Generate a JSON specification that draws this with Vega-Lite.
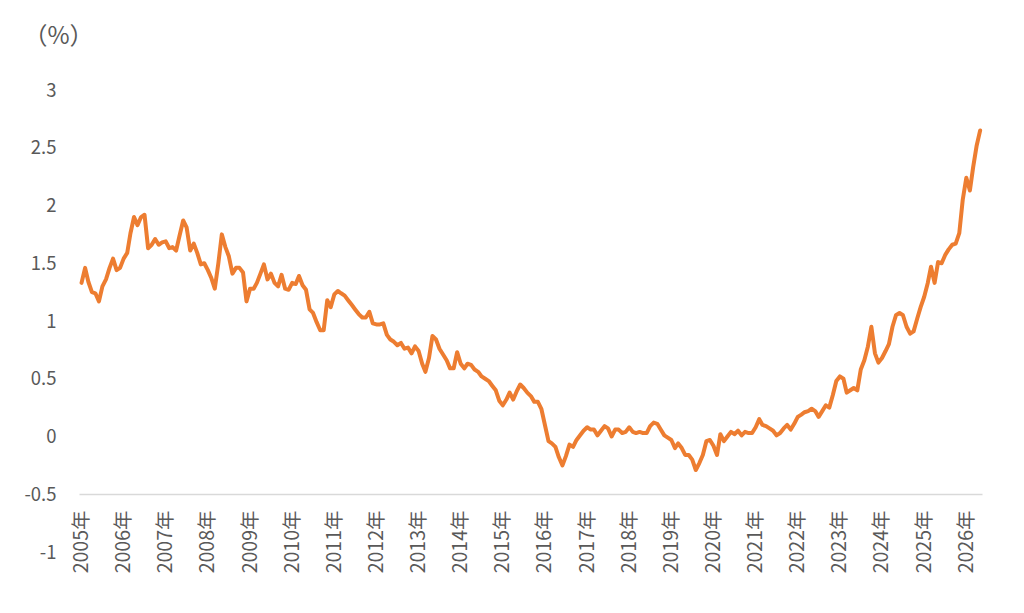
{
  "$schema": "https://vega.github.io/schema/vega-lite/v6.json",
  "width": 903,
  "height": 462,
  "autosize": "none",
  "padding": {"left": 79, "top": 90, "right": 42, "bottom": 61},
  "background": "white",
  "config": {"view": {"stroke": null}, "font": "Noto Sans CJK JP"},
  "data": {
    "values": [
      {"d": "2005-01", "v": 1.33}, {"d": "2005-02", "v": 1.46}, {"d": "2005-03", "v": 1.34}, {"d": "2005-04", "v": 1.25},
      {"d": "2005-05", "v": 1.24}, {"d": "2005-06", "v": 1.17}, {"d": "2005-07", "v": 1.30}, {"d": "2005-08", "v": 1.36},
      {"d": "2005-09", "v": 1.46}, {"d": "2005-10", "v": 1.54}, {"d": "2005-11", "v": 1.44}, {"d": "2005-12", "v": 1.46},
      {"d": "2006-01", "v": 1.54}, {"d": "2006-02", "v": 1.59}, {"d": "2006-03", "v": 1.76}, {"d": "2006-04", "v": 1.90},
      {"d": "2006-05", "v": 1.83}, {"d": "2006-06", "v": 1.90}, {"d": "2006-07", "v": 1.92}, {"d": "2006-08", "v": 1.63},
      {"d": "2006-09", "v": 1.66}, {"d": "2006-10", "v": 1.71}, {"d": "2006-11", "v": 1.66}, {"d": "2006-12", "v": 1.68},
      {"d": "2007-01", "v": 1.69}, {"d": "2007-02", "v": 1.63}, {"d": "2007-03", "v": 1.64}, {"d": "2007-04", "v": 1.61},
      {"d": "2007-05", "v": 1.74}, {"d": "2007-06", "v": 1.87}, {"d": "2007-07", "v": 1.81}, {"d": "2007-08", "v": 1.61},
      {"d": "2007-09", "v": 1.67}, {"d": "2007-10", "v": 1.59}, {"d": "2007-11", "v": 1.49}, {"d": "2007-12", "v": 1.50},
      {"d": "2008-01", "v": 1.44}, {"d": "2008-02", "v": 1.37}, {"d": "2008-03", "v": 1.28}, {"d": "2008-04", "v": 1.50},
      {"d": "2008-05", "v": 1.75}, {"d": "2008-06", "v": 1.64}, {"d": "2008-07", "v": 1.56}, {"d": "2008-08", "v": 1.41},
      {"d": "2008-09", "v": 1.46}, {"d": "2008-10", "v": 1.46}, {"d": "2008-11", "v": 1.42}, {"d": "2008-12", "v": 1.17},
      {"d": "2009-01", "v": 1.28}, {"d": "2009-02", "v": 1.28}, {"d": "2009-03", "v": 1.33}, {"d": "2009-04", "v": 1.41},
      {"d": "2009-05", "v": 1.49}, {"d": "2009-06", "v": 1.36}, {"d": "2009-07", "v": 1.41}, {"d": "2009-08", "v": 1.33},
      {"d": "2009-09", "v": 1.30}, {"d": "2009-10", "v": 1.40}, {"d": "2009-11", "v": 1.28}, {"d": "2009-12", "v": 1.27},
      {"d": "2010-01", "v": 1.33}, {"d": "2010-02", "v": 1.32}, {"d": "2010-03", "v": 1.39}, {"d": "2010-04", "v": 1.31},
      {"d": "2010-05", "v": 1.27}, {"d": "2010-06", "v": 1.10}, {"d": "2010-07", "v": 1.07}, {"d": "2010-08", "v": 0.99},
      {"d": "2010-09", "v": 0.92}, {"d": "2010-10", "v": 0.92}, {"d": "2010-11", "v": 1.18}, {"d": "2010-12", "v": 1.12},
      {"d": "2011-01", "v": 1.23}, {"d": "2011-02", "v": 1.26}, {"d": "2011-03", "v": 1.24}, {"d": "2011-04", "v": 1.22},
      {"d": "2011-05", "v": 1.18}, {"d": "2011-06", "v": 1.14}, {"d": "2011-07", "v": 1.10}, {"d": "2011-08", "v": 1.06},
      {"d": "2011-09", "v": 1.03}, {"d": "2011-10", "v": 1.03}, {"d": "2011-11", "v": 1.08}, {"d": "2011-12", "v": 0.98},
      {"d": "2012-01", "v": 0.97}, {"d": "2012-02", "v": 0.97}, {"d": "2012-03", "v": 0.98}, {"d": "2012-04", "v": 0.88},
      {"d": "2012-05", "v": 0.84}, {"d": "2012-06", "v": 0.82}, {"d": "2012-07", "v": 0.79}, {"d": "2012-08", "v": 0.81},
      {"d": "2012-09", "v": 0.76}, {"d": "2012-10", "v": 0.77}, {"d": "2012-11", "v": 0.72}, {"d": "2012-12", "v": 0.78},
      {"d": "2013-01", "v": 0.74}, {"d": "2013-02", "v": 0.63}, {"d": "2013-03", "v": 0.56}, {"d": "2013-04", "v": 0.68},
      {"d": "2013-05", "v": 0.87}, {"d": "2013-06", "v": 0.84}, {"d": "2013-07", "v": 0.76}, {"d": "2013-08", "v": 0.71},
      {"d": "2013-09", "v": 0.66}, {"d": "2013-10", "v": 0.59}, {"d": "2013-11", "v": 0.59}, {"d": "2013-12", "v": 0.73},
      {"d": "2014-01", "v": 0.63}, {"d": "2014-02", "v": 0.59}, {"d": "2014-03", "v": 0.63}, {"d": "2014-04", "v": 0.62},
      {"d": "2014-05", "v": 0.58}, {"d": "2014-06", "v": 0.56}, {"d": "2014-07", "v": 0.52}, {"d": "2014-08", "v": 0.50},
      {"d": "2014-09", "v": 0.48}, {"d": "2014-10", "v": 0.44}, {"d": "2014-11", "v": 0.40}, {"d": "2014-12", "v": 0.31},
      {"d": "2015-01", "v": 0.27}, {"d": "2015-02", "v": 0.32}, {"d": "2015-03", "v": 0.38}, {"d": "2015-04", "v": 0.32},
      {"d": "2015-05", "v": 0.39}, {"d": "2015-06", "v": 0.45}, {"d": "2015-07", "v": 0.42}, {"d": "2015-08", "v": 0.38},
      {"d": "2015-09", "v": 0.35}, {"d": "2015-10", "v": 0.30}, {"d": "2015-11", "v": 0.30}, {"d": "2015-12", "v": 0.24},
      {"d": "2016-01", "v": 0.10}, {"d": "2016-02", "v": -0.04}, {"d": "2016-03", "v": -0.06}, {"d": "2016-04", "v": -0.09},
      {"d": "2016-05", "v": -0.18}, {"d": "2016-06", "v": -0.25}, {"d": "2016-07", "v": -0.17}, {"d": "2016-08", "v": -0.07},
      {"d": "2016-09", "v": -0.09}, {"d": "2016-10", "v": -0.03}, {"d": "2016-11", "v": 0.01}, {"d": "2016-12", "v": 0.05},
      {"d": "2017-01", "v": 0.08}, {"d": "2017-02", "v": 0.06}, {"d": "2017-03", "v": 0.06}, {"d": "2017-04", "v": 0.01},
      {"d": "2017-05", "v": 0.05}, {"d": "2017-06", "v": 0.09}, {"d": "2017-07", "v": 0.07}, {"d": "2017-08", "v": 0.00},
      {"d": "2017-09", "v": 0.06}, {"d": "2017-10", "v": 0.06}, {"d": "2017-11", "v": 0.03}, {"d": "2017-12", "v": 0.04},
      {"d": "2018-01", "v": 0.08}, {"d": "2018-02", "v": 0.04}, {"d": "2018-03", "v": 0.03}, {"d": "2018-04", "v": 0.04},
      {"d": "2018-05", "v": 0.03}, {"d": "2018-06", "v": 0.03}, {"d": "2018-07", "v": 0.09}, {"d": "2018-08", "v": 0.12},
      {"d": "2018-09", "v": 0.11}, {"d": "2018-10", "v": 0.06}, {"d": "2018-11", "v": 0.01}, {"d": "2018-12", "v": -0.01},
      {"d": "2019-01", "v": -0.03}, {"d": "2019-02", "v": -0.10}, {"d": "2019-03", "v": -0.06}, {"d": "2019-04", "v": -0.10},
      {"d": "2019-05", "v": -0.16}, {"d": "2019-06", "v": -0.16}, {"d": "2019-07", "v": -0.20}, {"d": "2019-08", "v": -0.29},
      {"d": "2019-09", "v": -0.23}, {"d": "2019-10", "v": -0.16}, {"d": "2019-11", "v": -0.04}, {"d": "2019-12", "v": -0.03},
      {"d": "2020-01", "v": -0.08}, {"d": "2020-02", "v": -0.16}, {"d": "2020-03", "v": 0.02}, {"d": "2020-04", "v": -0.04},
      {"d": "2020-05", "v": 0.00}, {"d": "2020-06", "v": 0.04}, {"d": "2020-07", "v": 0.02}, {"d": "2020-08", "v": 0.05},
      {"d": "2020-09", "v": 0.01}, {"d": "2020-10", "v": 0.04}, {"d": "2020-11", "v": 0.03}, {"d": "2020-12", "v": 0.03},
      {"d": "2021-01", "v": 0.08}, {"d": "2021-02", "v": 0.15}, {"d": "2021-03", "v": 0.10}, {"d": "2021-04", "v": 0.09},
      {"d": "2021-05", "v": 0.07}, {"d": "2021-06", "v": 0.05}, {"d": "2021-07", "v": 0.01}, {"d": "2021-08", "v": 0.03},
      {"d": "2021-09", "v": 0.07}, {"d": "2021-10", "v": 0.10}, {"d": "2021-11", "v": 0.06}, {"d": "2021-12", "v": 0.11},
      {"d": "2022-01", "v": 0.17}, {"d": "2022-02", "v": 0.19}, {"d": "2022-03", "v": 0.21}, {"d": "2022-04", "v": 0.22},
      {"d": "2022-05", "v": 0.24}, {"d": "2022-06", "v": 0.22}, {"d": "2022-07", "v": 0.17}, {"d": "2022-08", "v": 0.22},
      {"d": "2022-09", "v": 0.27}, {"d": "2022-10", "v": 0.25}, {"d": "2022-11", "v": 0.36}, {"d": "2022-12", "v": 0.48},
      {"d": "2023-01", "v": 0.52}, {"d": "2023-02", "v": 0.50}, {"d": "2023-03", "v": 0.38}, {"d": "2023-04", "v": 0.40},
      {"d": "2023-05", "v": 0.42}, {"d": "2023-06", "v": 0.40}, {"d": "2023-07", "v": 0.58}, {"d": "2023-08", "v": 0.66},
      {"d": "2023-09", "v": 0.78}, {"d": "2023-10", "v": 0.95}, {"d": "2023-11", "v": 0.72}, {"d": "2023-12", "v": 0.64},
      {"d": "2024-01", "v": 0.68}, {"d": "2024-02", "v": 0.74}, {"d": "2024-03", "v": 0.80}, {"d": "2024-04", "v": 0.95},
      {"d": "2024-05", "v": 1.05}, {"d": "2024-06", "v": 1.07}, {"d": "2024-07", "v": 1.05}, {"d": "2024-08", "v": 0.95},
      {"d": "2024-09", "v": 0.89}, {"d": "2024-10", "v": 0.91}, {"d": "2024-11", "v": 1.02}, {"d": "2024-12", "v": 1.12},
      {"d": "2025-01", "v": 1.21}, {"d": "2025-02", "v": 1.33}, {"d": "2025-03", "v": 1.47}, {"d": "2025-04", "v": 1.33},
      {"d": "2025-05", "v": 1.51}, {"d": "2025-06", "v": 1.50}, {"d": "2025-07", "v": 1.57}, {"d": "2025-08", "v": 1.62},
      {"d": "2025-09", "v": 1.66}, {"d": "2025-10", "v": 1.67}, {"d": "2025-11", "v": 1.76}, {"d": "2025-12", "v": 2.05},
      {"d": "2026-01", "v": 2.24}, {"d": "2026-02", "v": 2.13}, {"d": "2026-03", "v": 2.33}, {"d": "2026-04", "v": 2.52},
      {"d": "2026-05", "v": 2.65}
    ]
  },
  "mark": {
    "type": "line",
    "color": "#ED7D31",
    "strokeWidth": 4,
    "strokeJoin": "round",
    "strokeCap": "round"
  },
  "encoding": {
    "x": {
      "field": "d",
      "type": "temporal",
      "scale": {
        "type": "utc",
        "domain": [
          {"year": 2004, "month": 12, "date": 10, "utc": true},
          {"year": 2026, "month": 5, "date": 17, "utc": true}
        ]
      },
      "axis": {
        "title": null,
        "offset": -58,
        "grid": false,
        "ticks": false,
        "tickSize": 0,
        "domainColor": "#d9d9d9",
        "domainWidth": 1.5,
        "labelAngle": 270,
        "labelAlign": "right",
        "labelBaseline": "middle",
        "labelPadding": 16,
        "labelFontSize": 19.5,
        "labelColor": "#595959",
        "labelOverlap": false,
        "labelFlush": false,
        "tickCount": {"interval": "year", "step": 1},
        "labelExpr": "utcFormat(datum.value, '%Y') + '年'"
      }
    },
    "y": {
      "field": "v",
      "type": "quantitative",
      "scale": {"domain": [-1, 3], "nice": false, "zero": false},
      "axis": {
        "values": [-1, -0.5, 0, 0.5, 1, 1.5, 2, 2.5, 3],
        "labelExpr": "'' + datum.value",
        "grid": false,
        "domain": false,
        "ticks": false,
        "labelPadding": 23,
        "labelFontSize": 18.5,
        "labelColor": "#595959",
        "title": "（%）",
        "titleAngle": 0,
        "titleAlign": "center",
        "titleBaseline": "middle",
        "titleX": -21,
        "titleY": -54,
        "titleFontSize": 24,
        "titleFontWeight": "normal",
        "titleColor": "#595959"
      }
    }
  }
}
